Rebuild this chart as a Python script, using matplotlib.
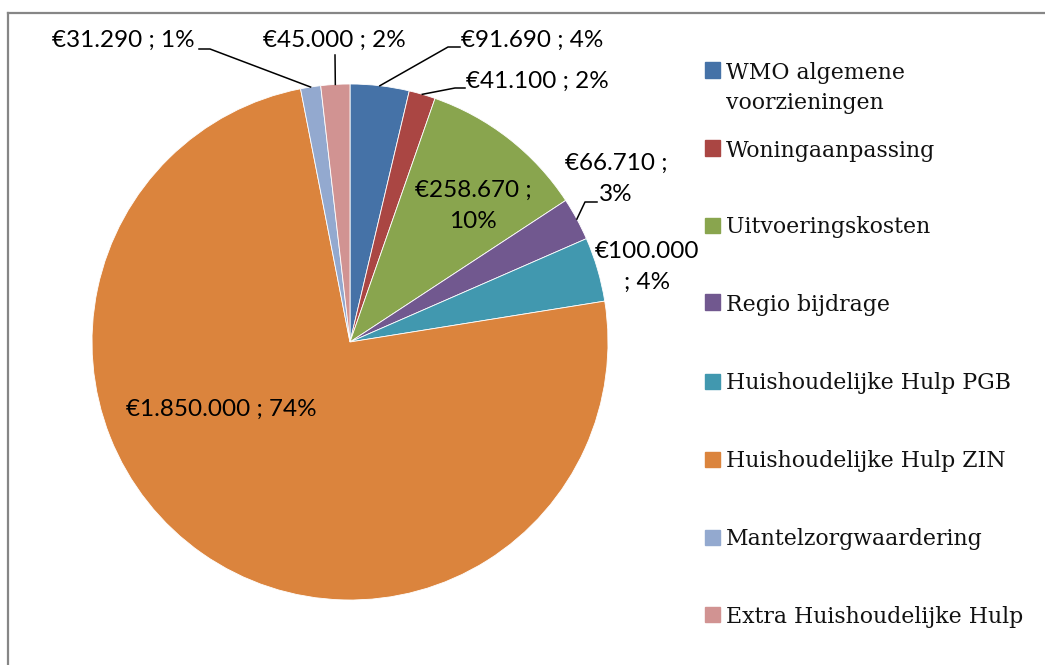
import matplotlib
matplotlib.use("Agg")
import matplotlib.pyplot as plt
from matplotlib.lines import Line2D
from matplotlib.patches import Rectangle
import numpy as np

categories = ["WMO algemene\nvoorzieningen", "Woningaanpassing", "Uitvoeringskosten",
              "Regio bijdrage", "Huishoudelijke Hulp PGB", "Huishoudelijke Hulp ZIN",
              "Mantelzorgwaardering", "Extra Huishoudelijke Hulp"]
values = [91690, 41100, 258670, 66710, 100000, 1850000, 31290, 45000]
value_labels = ["€91.690 ; 4%", "€41.100 ; 2%", "€258.670 ;\n10%", "€66.710 ;\n3%",
                "€100.000\n; 4%", "€1.850.000 ; 74%", "€31.290 ; 1%", "€45.000 ; 2%"]
colors = ["#4572A7", "#AA4643", "#89A54E", "#71588F", "#4198AF", "#DB843D",
          "#93A9CF", "#D19392"]

W, H = 1045, 665
fig = plt.figure(figsize=(W / 100, H / 100), dpi=100)
fig.patch.set_facecolor("white")

cx, cy, R = 350, 342, 258  # pixel geometry of the pie
ax = fig.add_axes([(cx - R) / W, (H - cy - R) / H, 2 * R / W, 2 * R / H])
wedges, _ = ax.pie(values, colors=colors, startangle=90, counterclock=False,
                   radius=1, wedgeprops=dict(linewidth=0.6, edgecolor="white"))
ax.set_xlim(-1, 1)
ax.set_ylim(-1, 1)
ax.set_aspect("equal")
ax.axis("off")


def px(x, y):
    return ((x - cx) / R, (cy - y) / R)


label_font = dict(family="Lato", fontsize=17.5, color="black")

# label placement (pixel centre) and leader lines (elbow points in pixels)
label_pos = [(532, 40), (537, 81), (473, 206), (616, 179), (647, 267), (221, 409),
             (123, 40), (334, 40)]
leaders = {0: [(448, 47), (460, 47)], 1: [(455, 88), (465, 88)],
           3: [(585, 202), (597, 202)], 6: [(210, 49), (199, 49)],
           7: [(335, 55)]}

for i, (w, lab) in enumerate(zip(wedges, value_labels)):
    x, y = px(*label_pos[i])
    ax.text(x, y, lab, ha="center", va="center", linespacing=1.6, **label_font)
    if i in leaders:
        ang = np.deg2rad((w.theta1 + w.theta2) / 2)
        sx, sy = np.cos(ang), np.sin(ang)
        pts = [(sx, sy)] + [px(*p) for p in leaders[i]]
        ax.plot([p[0] for p in pts], [p[1] for p in pts], color="black", lw=1.1,
                clip_on=False)

# legend
leg_y = [70, 148, 225, 302, 381, 459, 537, 614]
for name, col, yy in zip(categories, colors, leg_y):
    fig.patches.append(Rectangle((705 / W, (H - yy - 7.5) / H), 15 / W, 15 / H,
                                 transform=fig.transFigure, color=col))
    lines = name.split("\n")
    for k, line in enumerate(lines):
        fig.text(726 / W, (H - yy - 8.5 - 31 * k) / H, line, ha="left", va="baseline",
                 family="DejaVu Serif", fontsize=15.8, color="#111111")

# chart border (top and left visible)
fig.add_artist(Line2D([8 / W, 1], [1 - 13 / H, 1 - 13 / H], transform=fig.transFigure,
                      color="#868686", lw=1.6))
fig.add_artist(Line2D([8 / W, 8 / W], [0, 1 - 13 / H], transform=fig.transFigure,
                      color="#868686", lw=1.6))

fig.savefig("out.png", dpi=100)
